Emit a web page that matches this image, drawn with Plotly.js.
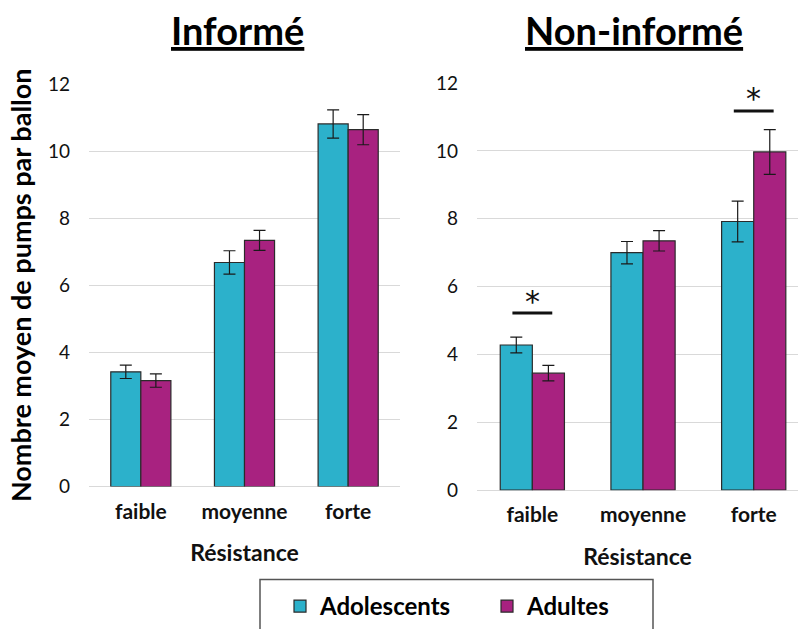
<!DOCTYPE html>
<html>
<head>
<meta charset="utf-8">
<script src="https://cdn.plot.ly/plotly-3.0.1.min.js"></script>
<style>html,body{margin:0;padding:0;background:#fff;}#chart{width:798px;height:629px;}</style>
</head>
<body>
<div id="chart"></div>
<script>
// ---- data ----
var categories = ['faible', 'moyenne', 'forte'];
var seriesNames = ['Adolescents', 'Adultes'];

var informeAdolescents = [3.42, 6.68, 10.81];
var informeAdolescentsErr = [0.2, 0.35, 0.42];
var informeAdultes = [3.16, 7.34, 10.64];
var informeAdultesErr = [0.2, 0.3, 0.45];

var nonInformeAdolescents = [4.28, 7.0, 7.92];
var nonInformeAdolescentsErr = [0.23, 0.33, 0.6];
var nonInformeAdultes = [3.45, 7.35, 9.97];
var nonInformeAdultesErr = [0.23, 0.3, 0.66];

var panelTitles = ['Informé', 'Non-informé'];
var xAxisTitle = 'Résistance';
var yAxisTitle = 'Nombre moyen de pumps par ballon';
var yTicks = [0, 2, 4, 6, 8, 10, 12];

// significance markers (non-informé panel)
var sigCategories = ['faible', 'forte'];
var sigLevels = [5.22, 11.18];
var sigLabel = '*';

// ---- style ----
var colAdo = '#2CB1CB';
var colAdu = '#A82280';
var outline = '#2b2b2b';
var FONT = 'Lato, "Open Sans", sans-serif';

function bar(name, x, y, err, color, xa, ya, show) {
  return {
    type: 'bar', name: name, x: x, y: y,
    xaxis: xa, yaxis: ya, showlegend: show, legendgroup: name,
    marker: {color: color, line: {color: outline, width: 1.2}},
    error_y: {type: 'data', array: err, visible: true, color: '#1a1a1a', thickness: 1.2, width: 6}
  };
}

var data = [
  bar(seriesNames[0], categories, informeAdolescents, informeAdolescentsErr, colAdo, 'x', 'y', true),
  bar(seriesNames[1], categories, informeAdultes, informeAdultesErr, colAdu, 'x', 'y', true),
  bar(seriesNames[0], categories, nonInformeAdolescents, nonInformeAdolescentsErr, colAdo, 'x2', 'y2', false),
  bar(seriesNames[1], categories, nonInformeAdultes, nonInformeAdultesErr, colAdu, 'x2', 'y2', false)
];

var W = 798, H = 629;

function xaxisDef(domain, range, anchor) {
  return {
    domain: domain, range: range, anchor: anchor,
    type: 'category', showgrid: false, zeroline: false, showline: false, ticks: '',
    tickfont: {family: FONT, size: 21, color: '#111', weight: 'bold'},
    ticklabelstandoff: 10,
    title: {text: '<b>' + xAxisTitle + '</b>', font: {family: FONT, size: 23, color: '#111'}, standoff: 23}
  };
}
function yaxisDef(domain, anchor, withTitle) {
  var a = {
    domain: domain, range: [0, 12], anchor: anchor, tickvals: yTicks, ticktext: yTicks.map(String),
    showgrid: true, gridcolor: '#D9D9D9', gridwidth: 1, zeroline: true, zerolinecolor: '#D9D9D9', zerolinewidth: 1,
    showline: false, ticks: '', ticklabelstandoff: 18,
    tickfont: {family: FONT, size: 19, color: '#111'}
  };
  if (withTitle) {
    a.title = {text: '<b>' + yAxisTitle + '</b>', font: {family: FONT, size: 27, color: '#000'}, standoff: 8};
  }
  return a;
}

var shapes = [];
var annotations = [];
sigCategories.forEach(function (c, i) {
  var idx = categories.indexOf(c);
  shapes.push({type: 'line', xref: 'x2', yref: 'y2', x0: idx - 0.18, x1: idx + 0.18,
    y0: sigLevels[i], y1: sigLevels[i], line: {color: '#111', width: 3}});
  annotations.push({xref: 'x2', yref: 'y2', x: idx, y: sigLevels[i], yanchor: 'middle', yshift: 12,
    text: sigLabel, showarrow: false, font: {family: '"DejaVu Sans", sans-serif', size: 30, color: '#111'}});
});

var titleX = [237 / W, 634 / W];
panelTitles.forEach(function (t, i) {
  annotations.push({xref: 'paper', yref: 'paper', x: titleX[i], y: 1 - 30 / H, xanchor: 'center', yanchor: 'middle',
    text: '<b><u>' + t + '</u></b>', showarrow: false, font: {family: FONT, size: 38, color: '#000'}});
});

// legend frame (open at the bottom edge of the picture)
shapes.push({type: 'rect', xref: 'paper', yref: 'paper', x0: 260 / W, x1: 653 / W, y0: -0.02, y1: 1 - 586 / H,
  line: {color: '#555', width: 1.5}, fillcolor: 'rgba(0,0,0,0)', layer: 'above'});

var layout = {
  width: W, height: H,
  margin: {l: 0, r: 0, t: 0, b: 0},
  paper_bgcolor: '#fff', plot_bgcolor: '#fff',
  barmode: 'group', bargap: 0.42, bargroupgap: 0,
  showlegend: true,
  legend: {orientation: 'h', x: 280 / W, xanchor: 'left', y: 1 - 591 / H, yanchor: 'top',
    borderwidth: 0, bgcolor: 'rgba(0,0,0,0)',
    font: {family: FONT, size: 24, color: '#000', weight: 'bold'}, entrywidth: 162, traceorder: 'normal'},
  xaxis: xaxisDef([89 / W, 400 / W], [-0.5, 2.5], 'y'),
  yaxis: yaxisDef([(H - 492) / H, (H - 85) / H], 'x', true),
  xaxis2: xaxisDef([477 / W, 1], [-0.5, 2.4], 'y2'),
  yaxis2: yaxisDef([(H - 495.7) / H, (H - 84) / H], 'x2', false),
  shapes: shapes, annotations: annotations
};

Plotly.newPlot('chart', data, layout, {displayModeBar: false, staticPlot: true});
</script>
</body>
</html>
